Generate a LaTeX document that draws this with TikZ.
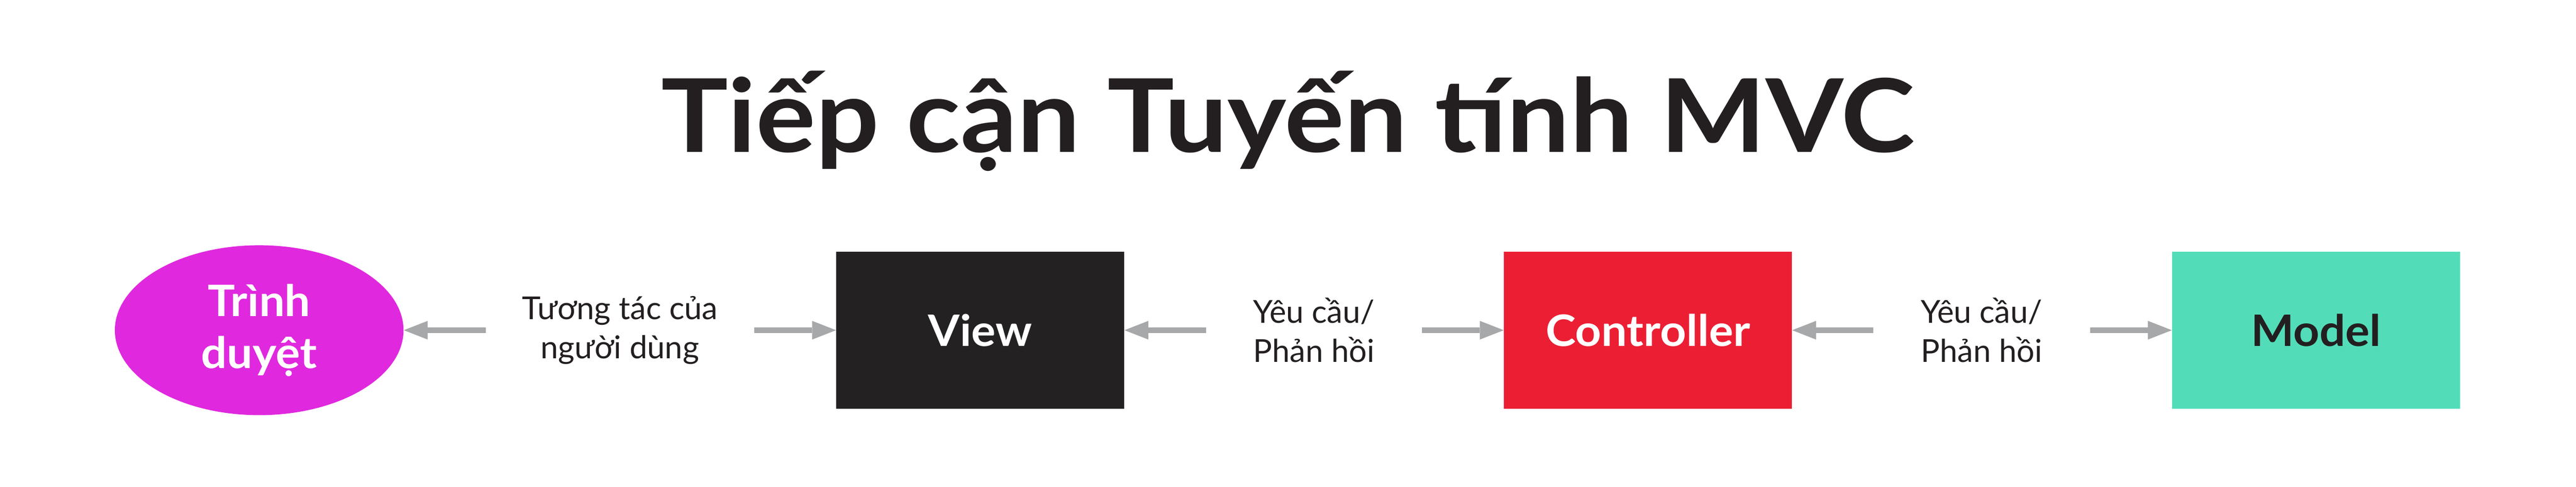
\documentclass[tikz,border=0pt]{standalone}
\usepackage{fontspec}
\setmainfont{Lato}
\newfontfamily\headfont[FakeStretch=1.10]{Lato}
\newfontfamily\partfont[FakeStretch=1.05]{Lato}
\usetikzlibrary{arrows.meta,shapes.geometric}

\definecolor{ink}{HTML}{231F20}
\definecolor{browsercol}{HTML}{E028DE}
\definecolor{viewcol}{HTML}{232122}
\definecolor{ctrlcol}{HTML}{EC1E33}
\definecolor{modelcol}{HTML}{52DDB8}
\definecolor{flowcol}{HTML}{A7A8AA}

\begin{document}
\begin{tikzpicture}[
  part/.style={rectangle, minimum width=7.23cm, minimum height=3.94cm,
    inner sep=0pt, font=\partfont\fontsize{31}{37}\selectfont\bfseries},
  client/.style={ellipse, minimum width=7.25cm, minimum height=4.27cm,
    inner sep=0pt, align=center,
    font=\partfont\fontsize{31}{37.3}\selectfont\bfseries},
  talk/.style={rectangle, align=center, inner sep=0pt, minimum height=1cm,
    font=\fontsize{22.6}{27.9}\selectfont, text=ink},
  flow/.style={draw=flowcol, line width=0.15cm,
    -{Triangle[width=0.47cm, length=0.6cm, line width=0pt]}}]

  \useasboundingbox (0,0) rectangle (64.70,12.23);

  % Heading

  \node [anchor=base, text=ink,
    font=\headfont\fontsize{72.7}{87}\selectfont\bfseries]
    (title) at (32.35,8.40) {Tiếp cận Tuyến tính MVC};

  % The browser and the three layers

  \node [client, fill=browsercol, text=white] (browser) at (6.51,3.93)
    {Trình\\duyệt};
  \node [part, fill=viewcol, text=white] (view) at (24.62,3.93) {View};
  \node [part, fill=ctrlcol, text=white] (ctrl) at (41.39,3.93) {Controller};
  \node [part, fill=modelcol, text=ink] (model) at (58.17,3.93) {Model};

  % What passes between them

  \node [talk, minimum width=6.73cm] (use) at (15.57,3.93)
    {Tương tác của\\người dùng};
  \node [talk, minimum width=5.41cm] (vc) at (33.00,3.93)
    {Yêu cầu/\\Phản hồi};
  \node [talk, minimum width=5.44cm] (cm) at (49.77,3.93)
    {Yêu cầu/\\Phản hồi};

  % Arrows

  \draw [flow] (use) -- (browser);
  \draw [flow] (use) -- (view);
  \draw [flow] (vc) -- (view);
  \draw [flow] (vc) -- (ctrl);
  \draw [flow] (cm) -- (ctrl);
  \draw [flow] (cm) -- (model);
\end{tikzpicture}
\end{document}
